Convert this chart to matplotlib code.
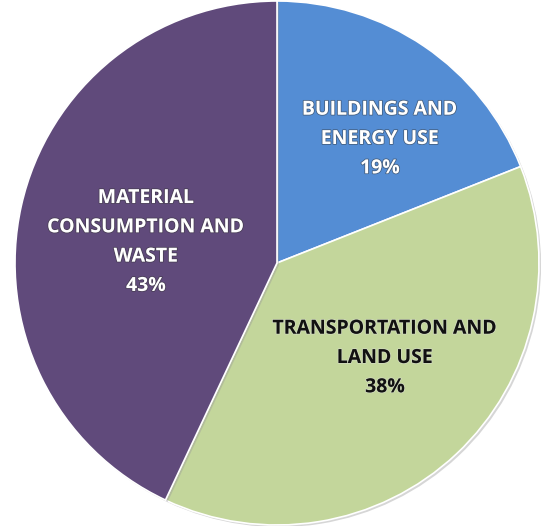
import matplotlib.pyplot as plt
import matplotlib.patheffects as pe

# data
categories = ["BUILDINGS AND\nENERGY USE", "TRANSPORTATION AND\nLAND USE", "MATERIAL\nCONSUMPTION AND\nWASTE"]
shares = [19, 38, 43]
colors = ["#548DD4", "#C3D69B", "#604A7B"]
text_colors = ["white", "#111111", "white"]

# label placement (pixel coords, y from top)
label_pos = [(380, 139), (385, 358), (146, 242)]

W, H = 542, 526
fig = plt.figure(figsize=(W / 100, H / 100), dpi=100)
ax = fig.add_axes([0, 0, 1, 1])

wedges, _ = ax.pie(shares, colors=colors, startangle=90, counterclock=False,
                   center=(277, H - 263), radius=262,
                   wedgeprops=dict(edgecolor="white", linewidth=1.2))
# faint outline like the original
for w in wedges:
    w.set_path_effects([pe.SimplePatchShadow(offset=(1.5, -1.5), shadow_rgbFace="#999999", alpha=0.4), pe.Normal()])

for lab, val, (x, y), tc in zip(categories, shares, label_pos, text_colors):
    glow = "#333333" if tc == "white" else "#dddddd"
    ax.text(x, H - y, f"{lab}\n{val}%", ha="center", va="center", color=tc,
            fontsize=14, fontweight="bold", family="Open Sans", linespacing=1.62,
            path_effects=[pe.withStroke(linewidth=1.2, foreground=glow, alpha=0.5)])

ax.set_xlim(0, W)
ax.set_ylim(0, H)
ax.set_aspect("equal")
ax.axis("off")
fig.savefig("out.png", dpi=100, facecolor="white")
